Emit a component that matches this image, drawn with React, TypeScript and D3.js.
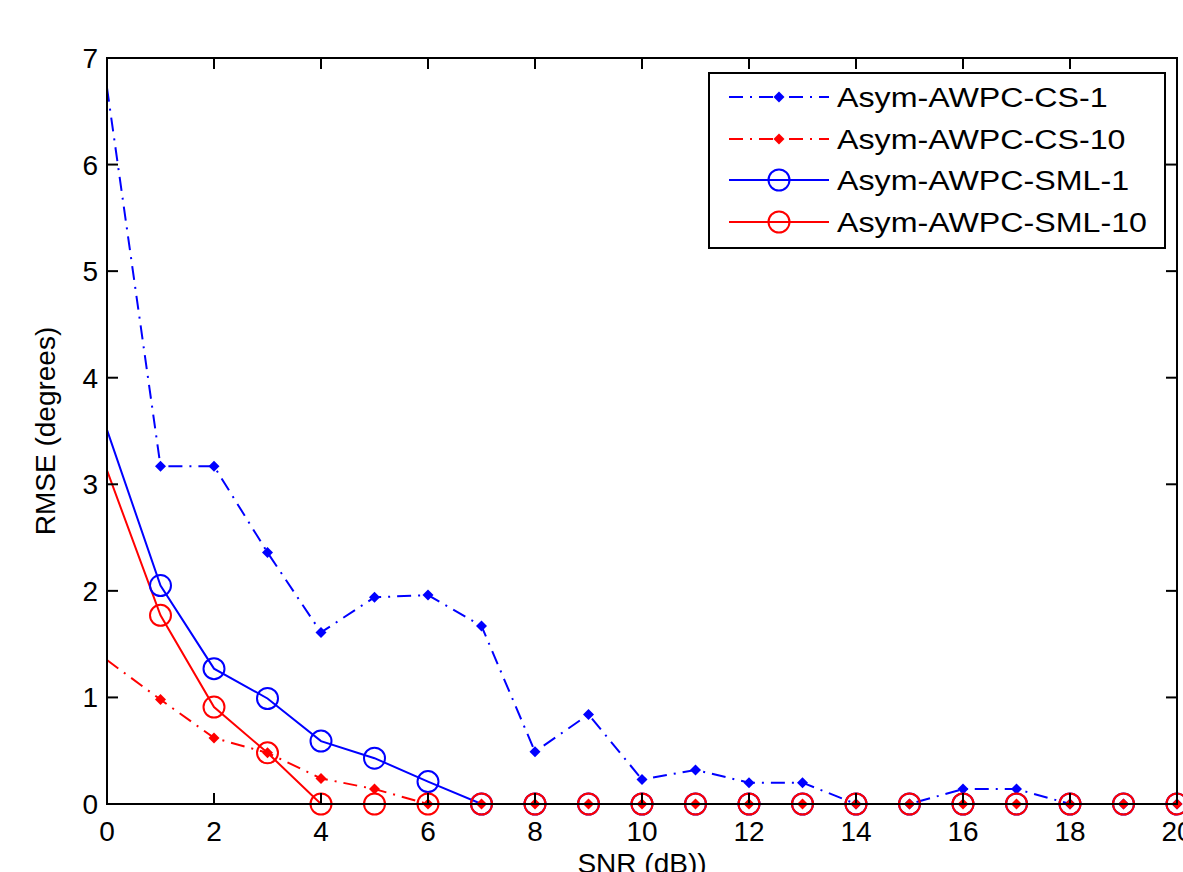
import React from "react";
import * as d3 from "d3";

const snr = [0, 1, 2, 3, 4, 5, 6, 7, 8, 9, 10, 11, 12, 13, 14, 15, 16, 17, 18, 19, 20];
const cs1 = [6.72, 3.17, 3.17, 2.36, 1.61, 1.94, 1.96, 1.67, 0.49, 0.84, 0.23, 0.32, 0.2, 0.2, 0, 0, 0.14, 0.14, 0, 0, 0];
const cs10 = [1.35, 0.98, 0.62, 0.48, 0.24, 0.14, 0, 0, 0, 0, 0, 0, 0, 0, 0, 0, 0, 0, 0, 0, 0];
const sml1 = [3.51, 2.05, 1.27, 0.99, 0.59, 0.43, 0.21, 0, 0, 0, 0, 0, 0, 0, 0, 0, 0, 0, 0, 0, 0];
const sml10 = [3.13, 1.77, 0.91, 0.48, 0, 0, 0, 0, 0, 0, 0, 0, 0, 0, 0, 0, 0, 0, 0, 0, 0];
const xTicks = [0, 2, 4, 6, 8, 10, 12, 14, 16, 18, 20];
const yTicks = [0, 1, 2, 3, 4, 5, 6, 7];
const seriesNames = ["Asym-AWPC-CS-1", "Asym-AWPC-CS-10", "Asym-AWPC-SML-1", "Asym-AWPC-SML-10"];

const W = 1183, H = 872;
const L = 107, R = 1177, T = 58, B = 804;
const FONT = "'Liberation Sans', Arial, sans-serif";

const series = [
  { name: seriesNames[0], values: cs1, color: "#0000ff", dash: "14,7,2,7", marker: "dot" },
  { name: seriesNames[1], values: cs10, color: "#ff0000", dash: "14,7,2,7", marker: "dot" },
  { name: seriesNames[2], values: sml1, color: "#0000ff", dash: null, marker: "circle" },
  { name: seriesNames[3], values: sml10, color: "#ff0000", dash: null, marker: "circle" },
];

function Marker({ type, x, y, color }: { type: string; x: number; y: number; color: string }) {
  if (type === "dot") {
    const s = 5.5;
    return <path d={`M${x},${y - s}L${x + s},${y}L${x},${y + s}L${x - s},${y}Z`} fill={color} />;
  }
  return <circle cx={x} cy={y} r={10.5} fill="none" stroke={color} strokeWidth={2} />;
}

export default function App() {
  const x = d3.scaleLinear().domain([0, 20]).range([L, R]);
  const y = d3.scaleLinear().domain([0, 7]).range([B, T]);
  const line = d3.line<number>().x((_, i) => x(snr[i])).y((d) => y(d));
  const tickLen = 11;
  const legX = 709, legY = 73, legW = 456, legH = 175;
  const rowY = [97, 139, 180, 222];

  return (
    <svg width={W} height={H} style={{ position: "absolute", left: 0, top: 0, background: "#fff" }} fontFamily={FONT}>
      <rect x={0} y={0} width={W} height={H} fill="#fff" />
      <defs>
        <clipPath id="plotclip">
          <rect x={L} y={T - 2} width={R - L} height={B - T + 14} />
        </clipPath>
      </defs>
      <g clipPath="url(#plotclip)">
        {series.map((s) => (
          <path key={s.name} d={line(s.values) || ""} fill="none" stroke={s.color} strokeWidth={2}
            strokeDasharray={s.dash || undefined} />
        ))}
      </g>
      {series.map((s) => (
        <g key={s.name + "m"}>
          {s.values.map((v, i) => (snr[i] > 0 ? <Marker key={i} type={s.marker} x={x(snr[i])} y={y(v)} color={s.color} /> : null))}
        </g>
      ))}
      {/* axes box */}
      <rect x={L} y={T} width={R - L} height={B - T} fill="none" stroke="#000" strokeWidth={2} />
      {xTicks.map((t) => (
        <g key={"x" + t}>
          <line x1={x(t)} x2={x(t)} y1={B} y2={B - tickLen} stroke="#000" strokeWidth={2} />
          <line x1={x(t)} x2={x(t)} y1={T} y2={T + tickLen} stroke="#000" strokeWidth={2} />
          <text x={x(t)} y={841} fontSize={28} textAnchor="middle" fill="#000">{t}</text>
        </g>
      ))}
      {yTicks.map((t) => (
        <g key={"y" + t}>
          <line x1={L} x2={L + tickLen} y1={y(t)} y2={y(t)} stroke="#000" strokeWidth={2} />
          <line x1={R} x2={R - tickLen} y1={y(t)} y2={y(t)} stroke="#000" strokeWidth={2} />
          <text x={98} y={y(t) + 10} fontSize={28} textAnchor="end" fill="#000">{t}</text>
        </g>
      ))}
      <text x={(L + R) / 2} y={873} fontSize={28} textAnchor="middle" fill="#000">SNR (dB))</text>
      <text transform={`translate(55,${(T + B) / 2}) rotate(-90)`} fontSize={28} textAnchor="middle" fill="#000">RMSE (degrees)</text>
      {/* legend */}
      <rect x={legX} y={legY} width={legW} height={legH} fill="#fff" stroke="#000" strokeWidth={2} />
      {series.map((s, i) => (
        <g key={s.name + "leg"}>
          <line x1={729} x2={829} y1={rowY[i]} y2={rowY[i]} stroke={s.color} strokeWidth={2}
            strokeDasharray={s.dash || undefined} />
          <Marker type={s.marker} x={779} y={rowY[i]} color={s.color} />
          <text transform={`translate(837,${rowY[i] + 10}) scale(1.15,1)`} fontSize={28} fill="#000">{s.name}</text>
        </g>
      ))}
    </svg>
  );
}
